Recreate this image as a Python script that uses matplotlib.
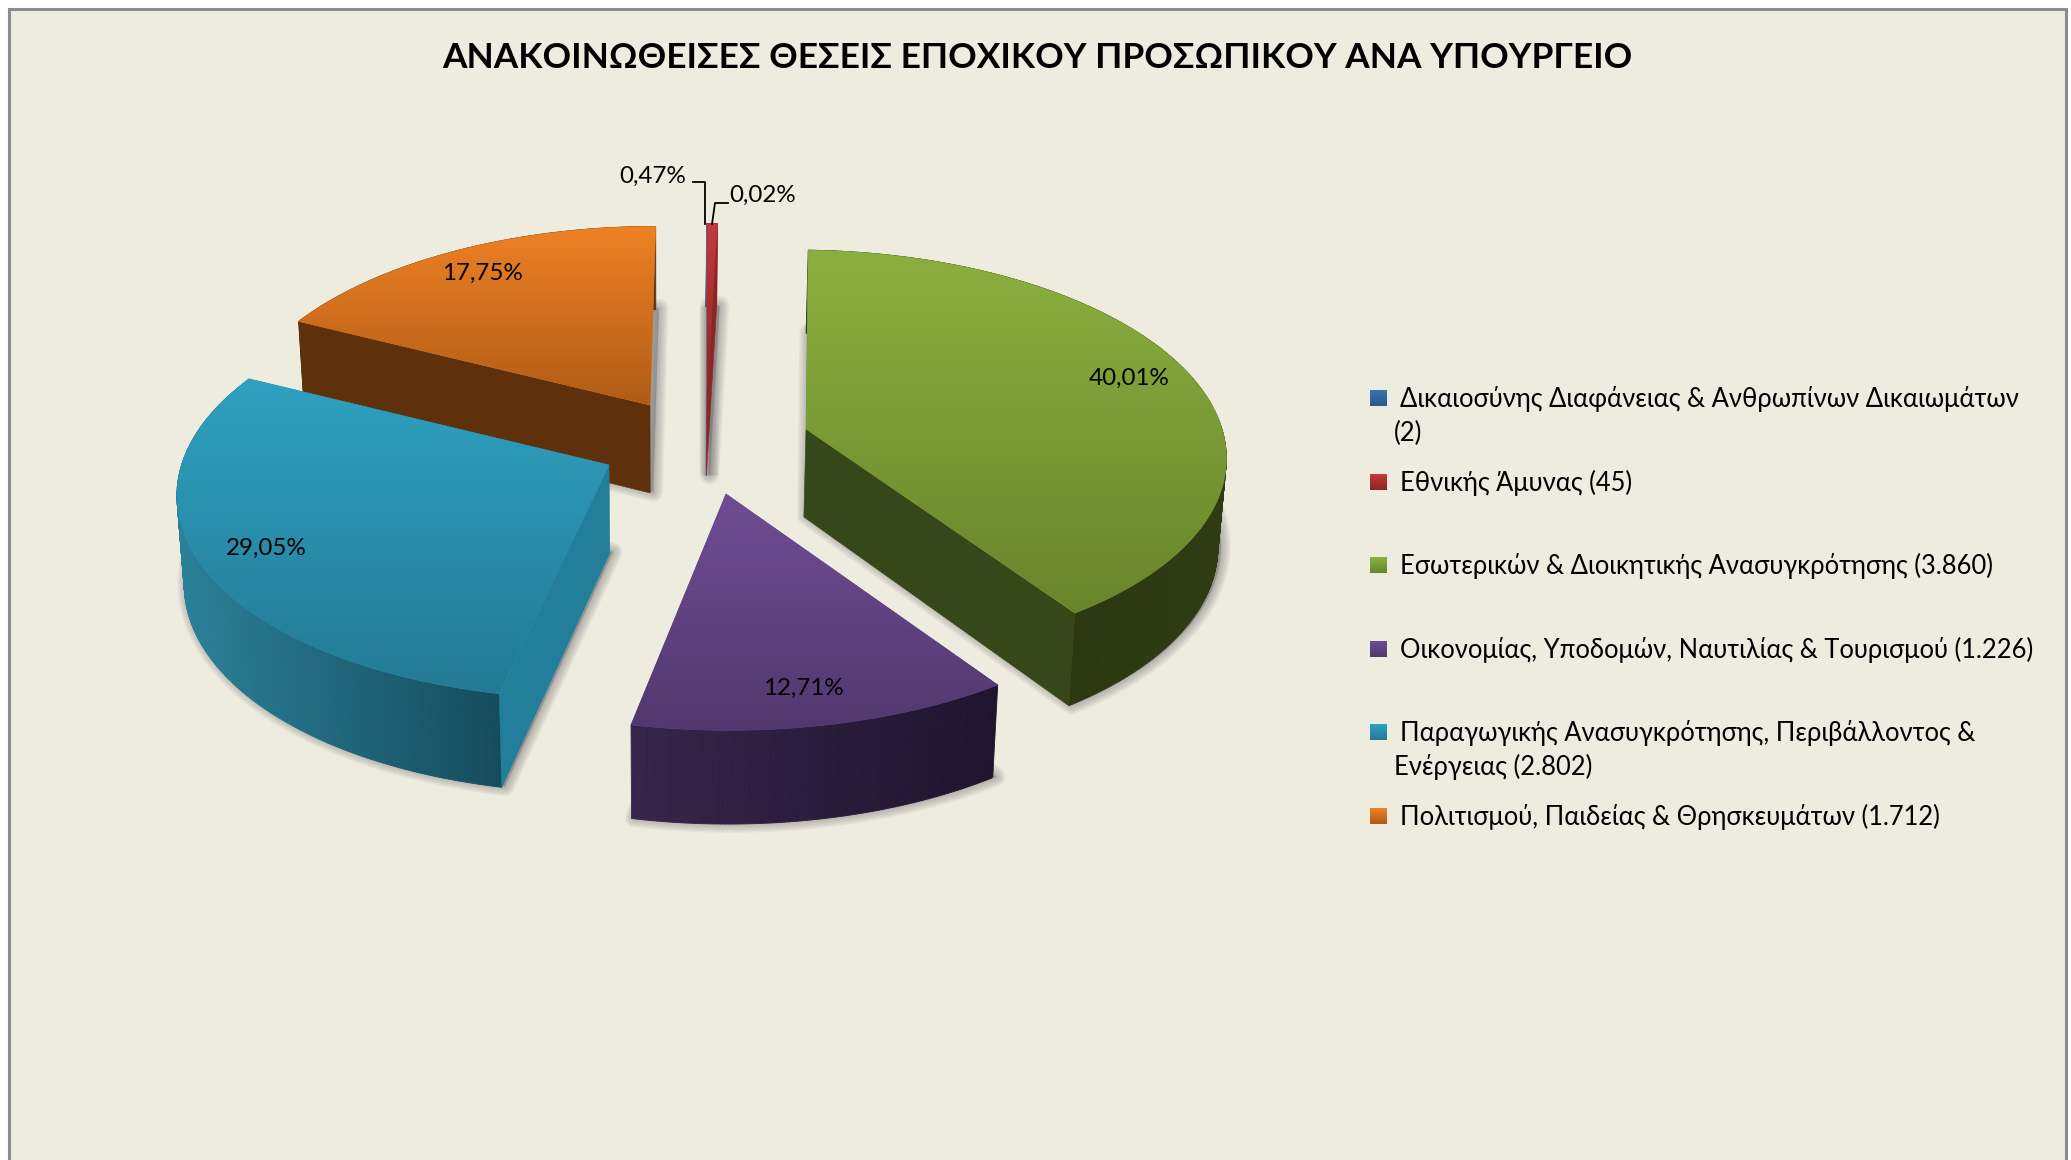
import numpy as np
import matplotlib
matplotlib.use("Agg")
import matplotlib.pyplot as plt
from matplotlib import font_manager as fm
from matplotlib.ft2font import FT2Font
from matplotlib.path import Path
from matplotlib.patches import Rectangle
from matplotlib.collections import PolyCollection
from matplotlib.colors import to_rgb

# ---------- data ----------
ministries = ["Δικαιοσύνης Διαφάνειας & Ανθρωπίνων Δικαιωμάτων",
              "Εθνικής Άμυνας",
              "Εσωτερικών & Διοικητικής Ανασυγκρότησης",
              "Οικονομίας, Υποδομών, Ναυτιλίας & Τουρισμού",
              "Παραγωγικής Ανασυγκρότησης, Περιβάλλοντος &",
              "Πολιτισμού, Παιδείας & Θρησκευμάτων"]
positions = [2, 45, 3860, 1226, 2802, 1712]
title = "ΑΝΑΚΟΙΝΩΘΕΙΣΕΣ ΘΕΣΕΙΣ ΕΠΟΧΙΚΟΥ ΠΡΟΣΩΠΙΚΟΥ ΑΝΑ ΥΠΟΥΡΓΕΙΟ"

# ---------- styles ----------
top_colors = [("#3a72ae", "#2b5a8c"), ("#c43a3a", "#8e2525"), ("#8cb03f", "#68852b"),
              ("#6f4d95", "#52386e"), ("#2fa1c1", "#237a94"), ("#ef8124", "#b05c17")]
side_colors = [("#2b5a8c", "#2b5a8c"), ("#8e2525", "#8e2525"), ("#24300c", "#2f3c13"),
               ("#36254b", "#1e142e"), ("#2b8099", "#154c5d"), ("#5e300c", "#5e300c")]
wall_colors = ["#5a7fa8", "#8e2525", "#36471a", "#3a2850", "#237e9c", "#5e300c"]
explode = [(2.6, -57), (3, -57), (102, -16), (22, 49), (-95, 20), (-54, -40)]
slice_scale = [0.93, 0.93, 1.012, 1.05, 1.04, 1.01]
slice_skew = [0, 0, 85, 22, -95, -53]
draw_order = [0, 1, 5, 2, 3, 4]
label_xy = [(763, 195), (653, 176), (1129, 378), (803, 688), (266, 548), (482, 273)]

W, H = 2071, 1160
CX, CY = 704, 445
RX, RY, PERSP, DEPTH, CONVERGE = 411, 198, 0.12, 88, 0.015
BG = "#eeebdf"

def pick_font():
    for name in ["Lato", "Open Sans", "Noto Sans"]:
        path = fm.findfont(name)
        if FT2Font(path).get_char_index(ord("Ω")):
            return name
    return "DejaVu Sans"
FONT = pick_font()
plt.rcParams["font.family"] = [FONT, "DejaVu Sans"]

fig = plt.figure(figsize=(W / 100, H / 100), dpi=100, facecolor="white")
ax = fig.add_axes([0, 0, 1, 1])
ax.set_axis_off()
ax.add_patch(Rectangle((8.5, 8.5), 2057, 1200, facecolor=BG, edgecolor="#8c8c8c", lw=2.2, zorder=0))

total = sum(positions)
edges = np.concatenate([[0], np.cumsum(positions)]) / total * 360.0

def project(th, r, i):
    t = np.radians(th)
    u, v = r * np.sin(t), -r * np.cos(t)
    s = 1.0 / (1 - PERSP * v)
    k = slice_scale[i]
    x = CX + explode[i][0] + k * RX * u * s + slice_skew[i] * (s - 1)
    y = CY + explode[i][1] + k * RY * v * s
    return x, y, s

def drop(x, y, s):
    return x - (x - CX + 40) * CONVERGE, y + DEPTH * np.sqrt(s)

def lerp(c0, c1, t):
    c0, c1 = np.array(to_rgb(c0)), np.array(to_rgb(c1))
    return c0 + (c1 - c0) * np.clip(t, 0, 1)

# shadows: soft copy of each slice's floor
for i in range(6):
    th = np.linspace(edges[i], edges[i + 1], 120)
    x, y, s = project(th, 1.0, i)
    x0, y0, s0 = project(np.array([0.0]), 0.0, i)
    px = np.r_[x0, x]
    py = np.r_[y0, y]
    ps = np.r_[s0, s]
    bx, by = drop(px, py, ps)
    for lw in [14, 12, 10, 8, 6, 4, 2, 0.5]:
        ax.fill(bx + 3, by - 1, facecolor="#707070", edgecolor="#707070", alpha=0.075, lw=lw,
                joinstyle="round", zorder=1)

z = 2
for i in draw_order:
    a0, a1 = edges[i], edges[i + 1]
    n = max(4, int((a1 - a0) * 2))
    th = np.linspace(a0, a1, n)
    x, y, s = project(th, 1.0, i)
    xb, yb = drop(x, y, s)
    tx, ty, ts = project(np.array([0.0]), 0.0, i)
    txb, tyb = drop(tx, ty, ts)

    # outer curved wall
    quads, cols = [], []
    span = max(x.max() - x.min(), 1e-6)
    for j in range(n - 1):
        quads.append([(x[j], y[j]), (x[j + 1], y[j + 1]), (xb[j + 1], yb[j + 1]), (xb[j], yb[j])])
        cols.append(lerp(*side_colors[i], (0.5 * (x[j] + x[j + 1]) - x.min()) / span))
    ax.add_collection(PolyCollection(quads, facecolors=cols, edgecolors=cols, linewidths=0.6, zorder=z))
    z += 1

    # radial walls facing the viewer
    for ang, sign, idx in [(a0, -1, 0), (a1, 1, -1)]:
        if sign * np.sin(np.radians(ang)) > 0:
            ax.fill([tx[0], x[idx], xb[idx], txb[0]], [ty[0], y[idx], yb[idx], tyb[0]],
                    color=wall_colors[i], lw=0.4, zorder=z)
    z += 1

    # top face with vertical gradient
    px = np.r_[tx, x, tx]
    py = np.r_[ty, y, ty]
    grad = np.array([lerp(*top_colors[i], t) for t in np.linspace(0, 1, 256)])[:, None, :]
    ax.fill(px, py, color=lerp(*top_colors[i], 0.5), lw=0.5, zorder=z)
    im = ax.imshow(grad, extent=(px.min(), px.max(), py.max(), py.min()), origin="upper",
                   aspect="auto", interpolation="bilinear", zorder=z + 0.5)
    im.set_clip_path(Path(np.column_stack([px, py])), transform=ax.transData)
    z += 1

ax.set_xlim(0, W)
ax.set_ylim(H, 0)

# percentage labels
for i, (lx, ly) in enumerate(label_xy):
    txt = f"{positions[i] / total * 100:.2f}%".replace(".", ",")
    ax.text(lx, ly, txt, ha="center", va="center", fontsize=17.4, color="black", zorder=50)

# leader lines
ax.plot([693, 705, 705], [182, 182, 224], color="black", lw=1.3, zorder=49)
ax.plot([728, 715, 712], [203, 203, 224], color="black", lw=1.3, zorder=49)

# title
ax.text(1037, 58, title, ha="center", va="center", fontsize=25.4, fontweight="bold", color="black", zorder=50)

# legend
def counts(v):
    return f"({v:,})".replace(",", ".")

FS = 18.4
step = 83.6
for i in range(6):
    yc = 398 + step * i
    grad = np.array([lerp(*top_colors[i], t) for t in np.linspace(0, 1, 32)])[:, None, :]
    ax.imshow(grad, extent=(1370, 1387, yc + 8, yc - 8), origin="upper", aspect="auto", zorder=50)
    ty = yc + 1
    if i == 0:
        ax.text(1400, ty, ministries[i], va="center", fontsize=FS, zorder=50)
        ax.text(1394, ty + 34, counts(positions[i]), va="center", fontsize=FS, zorder=50)
    elif i == 4:
        ax.text(1400, ty, ministries[i], va="center", fontsize=FS, zorder=50)
        ax.text(1394, ty + 34, f"Ενέργειας {counts(positions[i])}", va="center", fontsize=FS, zorder=50)
    else:
        ax.text(1400, ty, f"{ministries[i]} {counts(positions[i])}", va="center", fontsize=FS, zorder=50)

ax.set_xlim(0, W)
ax.set_ylim(H, 0)
fig.savefig("out.png", dpi=100, facecolor="white")
